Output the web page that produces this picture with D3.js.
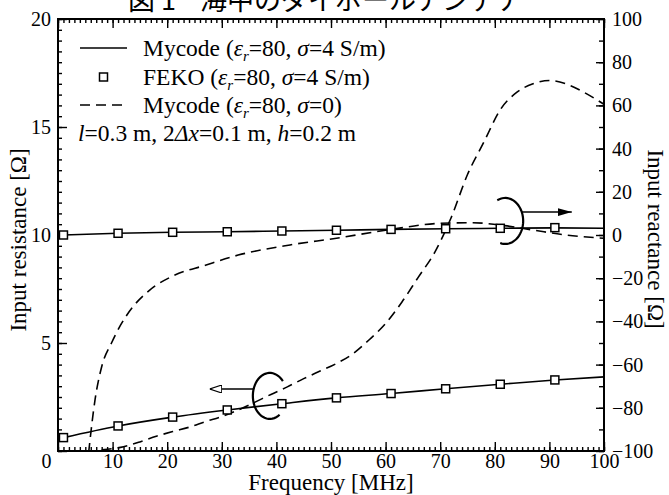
<!DOCTYPE html>
<html>
<head>
<meta charset="UTF-8">
<title>Input impedance</title>
<style>
  body { margin: 0; background: #fff; }
  svg { display: block; }
  text { font-family: "Liberation Serif", "DejaVu Serif", serif; fill: #000; }
  .title { font-family: "Noto Sans CJK JP", sans-serif; font-size: 27px; }
  .axis text { font-family: "Liberation Serif", serif; font-size: 20px; fill: #000; }
  .axis line { stroke: #000; stroke-width: 1.4; }
  .axis path.domain { display: none; }
  .axis-title { font-size: 23px; }
  .legend text { font-size: 23.5px; }
  path.curve { fill: none; stroke: #000; stroke-width: 1.6; }
  path.dashed { stroke-dasharray: 10,6; }
  rect.marker { fill: #fff; stroke: #000; stroke-width: 1.5; }
  rect.frame { fill: none; stroke: #000; stroke-width: 2; }
  path.note { fill: none; stroke: #000; stroke-width: 2.2; }
  line.arrow { stroke: #000; stroke-width: 1.5; }
</style>
</head>
<body>
<script src="https://cdn.jsdelivr.net/npm/d3@7"></script>
<script>
    // Mycode, eps_r=80, sigma=4 S/m (solid)
    var freqMy   = [1, 11, 21, 31, 41, 51, 61, 71, 81, 91, 100];
    var resMy    = [0.62, 1.16, 1.57, 1.90, 2.19, 2.46, 2.66, 2.88, 3.09, 3.29, 3.43];
    var reaMy    = [0.0, 0.8, 1.25, 1.5, 1.85, 2.2, 2.6, 2.9, 3.1, 3.3, 3.1];

    // FEKO, eps_r=80, sigma=4 S/m (squares)
    var freqFeko = [1, 11, 21, 31, 41, 51, 61, 71, 81, 91];
    var resFeko  = [0.62, 1.16, 1.57, 1.90, 2.19, 2.46, 2.66, 2.88, 3.09, 3.29];
    var reaFeko  = [0.0, 0.8, 1.25, 1.5, 1.85, 2.2, 2.6, 2.9, 3.1, 3.4];

    // Mycode, eps_r=80, sigma=0 (dashed)
    var freqRes0 = [8, 12, 15, 18, 21, 24, 27, 30, 33, 36, 39, 42, 45, 48, 51, 54, 57, 60, 63, 66, 69, 72, 75, 78, 81, 84, 87, 90, 93, 96, 100];
    var res0     = [0.05, 0.2, 0.42, 0.68, 0.9, 1.1, 1.36, 1.6, 1.9, 2.25, 2.62, 2.97, 3.35, 3.7, 4.05, 4.5, 5.15, 5.9, 6.9, 8.05, 9.2, 10.8, 12.8, 14.3, 15.8, 16.6, 17.0, 17.15, 17.0, 16.65, 16.05];
    var freqRea0 = [5.6, 6.8, 8, 9.8, 11.4, 13.8, 16.8, 21, 27, 33, 42.5, 51, 61, 70, 76, 81, 87, 93, 100];
    var rea0     = [-101, -76, -61, -50, -42, -33, -25.5, -19, -14, -9.3, -4.6, -1.5, 2.6, 5.4, 5.7, 4.6, 2.3, 0, -1.5];

    var xTicks = [0, 10, 20, 30, 40, 50, 60, 70, 80, 90, 100];
    var leftTicks = [0, 5, 10, 15, 20];
    var rightTicks = [-100, -80, -60, -40, -20, 0, 20, 40, 60, 80, 100];

    var width = 669, height = 495;
    var margin = {top: 19, right: 65, bottom: 44, left: 58};

    var x = d3.scaleLinear().domain([0, 100]).range([margin.left, width - margin.right]);
    var yL = d3.scaleLinear().domain([0, 20]).range([height - margin.bottom, margin.top]);
    var yR = d3.scaleLinear().domain([-100, 100]).range([height - margin.bottom, margin.top]);

    var svg = d3.select("body").append("svg")
            .attr("width", width)
            .attr("height", height);

    svg.append("clipPath").attr("id", "clip")
        .append("rect")
        .attr("x", x(0)).attr("y", yL(20))
        .attr("width", x(100) - x(0)).attr("height", yL(0) - yL(20));

    // title, cut off at the top edge like the scan
    svg.append("text").attr("class", "title").attr("x", 128).attr("y", 10).text("図 1");
    svg.append("text").attr("class", "title").attr("x", 200).attr("y", 10).text("海中のダイポールアンテナ");

    // axes (ticks point inward)
    function styleAxis(g) {
        g.attr("font-family", null).attr("font-size", null);
    }
    var fmt = d3.format("d");

    svg.append("g").attr("class", "axis")
        .attr("transform", "translate(0," + yL(0) + ")")
        .call(d3.axisBottom(x).tickValues(d3.range(0, 101, 1)).tickSize(-4).tickFormat(""))
        .call(styleAxis);
    svg.append("g").attr("class", "axis x")
        .attr("transform", "translate(0," + yL(0) + ")")
        .call(d3.axisBottom(x).tickValues(xTicks).tickSize(-9).tickPadding(3).tickFormat(fmt))
        .call(styleAxis)
        .selectAll(".tick text")
        .attr("dx", function (d) { return d === 0 ? -12 : 0; });

    svg.append("g").attr("class", "axis")
        .attr("transform", "translate(0," + yL(20) + ")")
        .call(d3.axisTop(x).tickValues(d3.range(0, 101, 1)).tickSize(-4).tickFormat(""))
        .call(styleAxis);
    svg.append("g").attr("class", "axis")
        .attr("transform", "translate(0," + yL(20) + ")")
        .call(d3.axisTop(x).tickValues(xTicks).tickSize(-9).tickFormat(""))
        .call(styleAxis);

    svg.append("g").attr("class", "axis")
        .attr("transform", "translate(" + x(0) + ",0)")
        .call(d3.axisLeft(yL).tickValues(d3.range(0, 20.01, 0.5)).tickSize(-4).tickFormat(""))
        .call(styleAxis);
    svg.append("g").attr("class", "axis")
        .attr("transform", "translate(" + x(0) + ",0)")
        .call(d3.axisLeft(yL).tickValues(leftTicks).tickSize(-9).tickPadding(7)
            .tickFormat(function (d) { return d === 0 ? "" : fmt(d); }))
        .call(styleAxis);

    svg.append("g").attr("class", "axis")
        .attr("transform", "translate(" + x(100) + ",0)")
        .call(d3.axisRight(yR).tickValues(d3.range(-100, 101, 10)).tickSize(-5).tickFormat(""))
        .call(styleAxis);
    svg.append("g").attr("class", "axis")
        .attr("transform", "translate(" + x(100) + ",0)")
        .call(d3.axisRight(yR).tickValues(rightTicks).tickSize(-8).tickPadding(8).tickFormat(fmt))
        .call(styleAxis);

    svg.append("rect").attr("class", "frame")
        .attr("x", x(0)).attr("y", yL(20))
        .attr("width", x(100) - x(0)).attr("height", yL(0) - yL(20));

    // axis titles
    svg.append("text").attr("class", "axis-title")
        .attr("x", (x(0) + x(100)) / 2).attr("y", 490)
        .attr("text-anchor", "middle")
        .text("Frequency [MHz]");
    svg.append("text").attr("class", "axis-title")
        .attr("transform", "translate(26,240) rotate(-90)")
        .attr("text-anchor", "middle")
        .text("Input resistance [Ω]");
    svg.append("text").attr("class", "axis-title")
        .attr("transform", "translate(648,239) rotate(90)")
        .attr("text-anchor", "middle")
        .text("Input reactance [Ω]");

    // curves
    var plot = svg.append("g").attr("clip-path", "url(#clip)");

    function zip(xs, ys) { return xs.map(function (f, i) { return [f, ys[i]]; }); }
    var lineL = d3.line().x(function (d) { return x(d[0]); }).y(function (d) { return yL(d[1]); }).curve(d3.curveMonotoneX);
    var lineR = d3.line().x(function (d) { return x(d[0]); }).y(function (d) { return yR(d[1]); }).curve(d3.curveMonotoneX);

    plot.append("path").attr("class", "curve dashed").attr("d", lineR(zip(freqRea0, rea0)));
    plot.append("path").attr("class", "curve dashed").attr("d", lineL(zip(freqRes0, res0)));
    plot.append("path").attr("class", "curve").attr("d", lineL(zip(freqMy, resMy)));
    plot.append("path").attr("class", "curve").attr("d", lineR(zip(freqMy, reaMy)));

    var sq = 8;
    plot.selectAll("rect.res").data(zip(freqFeko, resFeko)).enter()
        .append("rect").attr("class", "marker res")
        .attr("x", function (d) { return x(d[0]) - sq / 2; })
        .attr("y", function (d) { return yL(d[1]) - sq / 2; })
        .attr("width", sq).attr("height", sq);
    plot.selectAll("rect.rea").data(zip(freqFeko, reaFeko)).enter()
        .append("rect").attr("class", "marker rea")
        .attr("x", function (d) { return x(d[0]) - sq / 2; })
        .attr("y", function (d) { return yR(d[1]) - sq / 2; })
        .attr("width", sq).attr("height", sq);

    // arrow heads
    var defs = svg.append("defs");
    defs.append("marker").attr("id", "headOpen")
        .attr("viewBox", "0 0 12 8").attr("refX", 12).attr("refY", 4)
        .attr("markerWidth", 12).attr("markerHeight", 8).attr("markerUnits", "userSpaceOnUse")
        .attr("orient", "auto")
        .append("path").attr("d", "M0,0L12,4L0,8Z")
        .attr("fill", "#fff").attr("stroke", "#000").attr("stroke-width", 1.2);
    defs.append("marker").attr("id", "headFill")
        .attr("viewBox", "0 0 14 8").attr("refX", 14).attr("refY", 4)
        .attr("markerWidth", 14).attr("markerHeight", 8).attr("markerUnits", "userSpaceOnUse")
        .attr("orient", "auto")
        .append("path").attr("d", "M0,0L14,4L0,8Z").attr("fill", "#000");

    // ring + arrow marking which axis a group of curves uses
    function ellipseArc(cx, cy, rx, ry, a0, a1) {
        var pts = d3.range(0, 41).map(function (i) {
            var a = (a0 + (a1 - a0) * i / 40) * Math.PI / 180;
            return [cx + rx * Math.cos(a), cy + ry * Math.sin(a)];
        });
        return d3.line()(pts);
    }
    // left group: resistance curves
    var lc = {f: 38.8, v: 2.55, rx: 17, ry: 23, arrowF: 27.8, arrowV: 2.87};
    svg.append("path").attr("class", "note")
        .attr("d", ellipseArc(x(lc.f), yL(lc.v), lc.rx, lc.ry, -40, -305));
    svg.append("line").attr("class", "arrow")
        .attr("x1", x(lc.f) - lc.rx + 1).attr("y1", yL(lc.arrowV))
        .attr("x2", x(lc.arrowF)).attr("y2", yL(lc.arrowV))
        .attr("marker-end", "url(#headOpen)");
    // right group: reactance curves
    var rc = {f: 81.9, v: 6.5, rx: 18, ry: 23, arrowF: 94.1, arrowV: 10.6};
    svg.append("path").attr("class", "note")
        .attr("d", ellipseArc(x(rc.f), yR(rc.v), rc.rx, rc.ry, -116, 106));
    svg.append("line").attr("class", "arrow")
        .attr("x1", x(rc.f) + rc.rx - 2).attr("y1", yR(rc.arrowV))
        .attr("x2", x(rc.arrowF)).attr("y2", yR(rc.arrowV))
        .attr("marker-end", "url(#headFill)");

    // legend
    var lg = svg.append("g").attr("class", "legend");
    var rowY = [48, 77, 105, 133];
    var sx0 = 80, sx1 = 127, tx = 143;
    lg.append("path").attr("class", "curve").attr("d", d3.line()([[sx0, rowY[0]], [sx1, rowY[0]]]));
    lg.append("rect").attr("class", "marker")
        .attr("x", (sx0 + sx1) / 2 - sq / 2).attr("y", rowY[1] - sq / 2)
        .attr("width", sq).attr("height", sq);
    lg.append("path").attr("class", "curve dashed").attr("d", d3.line()([[sx0, rowY[2]], [sx1, rowY[2]]]));

    function paramText(t, label, sigma) {
        t.append("tspan").text(label + " (");
        t.append("tspan").attr("font-style", "italic").text("ε");
        t.append("tspan").attr("font-style", "italic").attr("font-size", "15px").attr("dy", 5).text("r");
        t.append("tspan").attr("dy", -5).text("=80, ");
        t.append("tspan").attr("font-style", "italic").text("σ");
        t.append("tspan").text("=" + sigma + ")");
    }
    paramText(lg.append("text").attr("x", tx).attr("y", rowY[0] + 8), "Mycode", "4 S/m");
    paramText(lg.append("text").attr("x", tx).attr("y", rowY[1] + 8), "FEKO", "4 S/m");
    paramText(lg.append("text").attr("x", tx).attr("y", rowY[2] + 8), "Mycode", "0");

    var t4 = lg.append("text").attr("x", 78).attr("y", rowY[3] + 8);
    t4.append("tspan").attr("font-style", "italic").text("l");
    t4.append("tspan").text("=0.3 m, 2");
    t4.append("tspan").attr("font-style", "italic").text("Δx");
    t4.append("tspan").text("=0.1 m, ");
    t4.append("tspan").attr("font-style", "italic").text("h");
    t4.append("tspan").text("=0.2 m");
</script>
</body>
</html>
